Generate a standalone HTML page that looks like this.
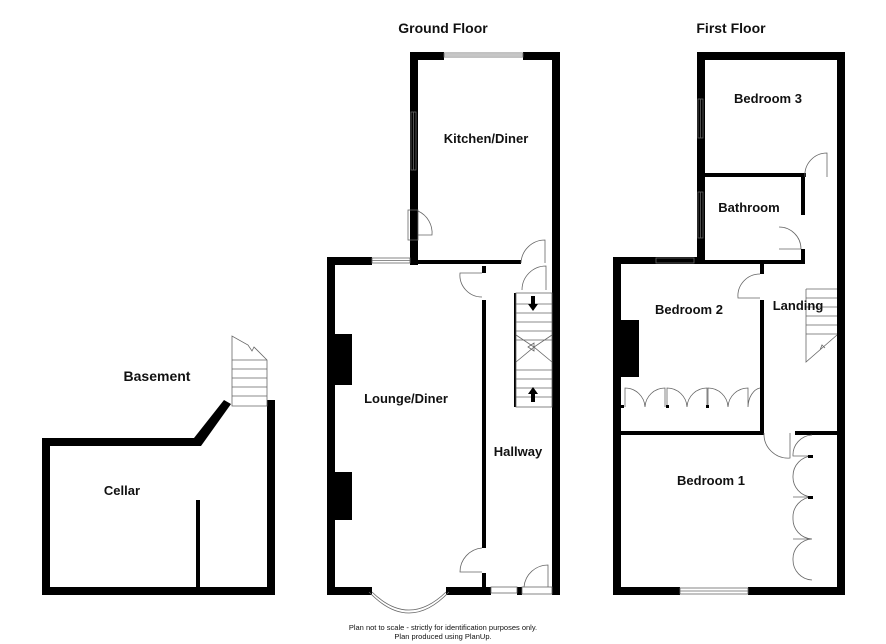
<!DOCTYPE html>
<html><head><meta charset="utf-8"><style>
html,body{margin:0;padding:0;background:#fff}
svg{display:block}
text{font-family:"Liberation Sans",Arial,sans-serif;font-weight:bold;fill:#111}
text.n{font-weight:normal}
</style></head><body>
<svg width="886" height="644" viewBox="0 0 886 644" xmlns="http://www.w3.org/2000/svg">
<g fill="#000">
<rect x="42" y="438" width="8" height="157"/>
<rect x="42" y="438" width="156" height="8"/>
<polygon points="194,438 224,400 231,404 201,446 194,446"/>
<rect x="267" y="400" width="8" height="195"/>
<rect x="42" y="587" width="233" height="8"/>
<rect x="196" y="500" width="4" height="90"/>
<rect x="410" y="52" width="8" height="213"/>
<rect x="410" y="52" width="34" height="8"/>
<rect x="523" y="52" width="37" height="8"/>
<rect x="552" y="52" width="8" height="543"/>
<rect x="418" y="260" width="103" height="4"/>
<rect x="327" y="257" width="8" height="338"/>
<rect x="327" y="257" width="45" height="8"/>
<rect x="327" y="587" width="45" height="8"/>
<rect x="446" y="587" width="45" height="8"/>
<rect x="517" y="587" width="5" height="8"/>
<rect x="482" y="300" width="4" height="248"/>
<rect x="482" y="266" width="4" height="7"/>
<rect x="482" y="573" width="4" height="18"/>
<rect x="335" y="334" width="17" height="51"/>
<rect x="335" y="472" width="17" height="48"/>
<rect x="514" y="293" width="2" height="114"/>
<rect x="697" y="52" width="8" height="212"/>
<rect x="697" y="52" width="148" height="8"/>
<rect x="837" y="52" width="8" height="543"/>
<rect x="705" y="173" width="101" height="4"/>
<rect x="801" y="173" width="4" height="42"/>
<rect x="801" y="249" width="4" height="15"/>
<rect x="613" y="257" width="92" height="7"/>
<rect x="705" y="260" width="100" height="4"/>
<rect x="613" y="257" width="8" height="338"/>
<rect x="613" y="587" width="67" height="8"/>
<rect x="748" y="587" width="97" height="8"/>
<rect x="760" y="264" width="4" height="10"/>
<rect x="760" y="300" width="4" height="135"/>
<rect x="621" y="431" width="143" height="4"/>
<rect x="795" y="431" width="42" height="4"/>
<rect x="621" y="320" width="18" height="57"/>
</g>
<g fill="none" stroke="#666" stroke-width="0.8">
<path d="M232,336 L232,406 L267,406 L267,360 L254,347 L252,351 L248,345 Z"/>
<path d="M232,360 H267 M232,369 H267 M232,378 H267 M232,387 H267 M232,396 H267"/>
<rect x="444" y="53" width="79" height="4"/><line x1="444" y1="55" x2="523" y2="55"/>
<rect x="411" y="112" width="5" height="58"/><line x1="413.5" y1="112" x2="413.5" y2="170"/>
<rect x="372" y="258" width="38" height="5"/><line x1="372" y1="260.5" x2="410" y2="260.5"/>
<rect x="491" y="587" width="26" height="6"/>
<path d="M372,592 Q409,628 446,592"/><path d="M369,592 Q409,634 449,592"/>
<rect x="408" y="210" width="10" height="30"/>
<path d="M418,211 A24,24 0 0 1 432,235 L418,235"/>
<path d="M521,263 A24,24 0 0 1 545,240 L545,263"/>
<path d="M522,290 A24,24 0 0 1 546,266 L546,290"/>
<path d="M482,273 L460,273 A22,22 0 0 0 482,297"/>
<path d="M482,548 A24,24 0 0 0 460,572 L482,572"/>
<rect x="522" y="587" width="30" height="7"/>
<path d="M524,587 A24,24 0 0 1 548,565 L548,587"/>
<rect x="516" y="293" width="36" height="114"/>
<path d="M516,304 H552 M516,313 H552 M516,322 H552 M516,331 H552 M516,340 H552 M516,370 H552 M516,379 H552 M516,388 H552 M516,397 H552"/>
<path d="M516,335 L534,347 L516,362 M552,335 L534,347 L552,362"/>
<path d="M528,347 L534,343 L534,351 Z"/>
<rect x="698" y="99" width="5" height="39"/><line x1="700.5" y1="99" x2="700.5" y2="138"/>
<rect x="698" y="192" width="5" height="46"/><line x1="700.5" y1="192" x2="700.5" y2="238"/>
<rect x="656" y="258" width="38" height="5"/>
<rect x="680" y="588" width="68" height="6"/><line x1="680" y1="591" x2="748" y2="591"/>
<path d="M805,177 A22,22 0 0 1 827,153 L827,177"/>
<path d="M801,249 A22,22 0 0 0 779,227 M779,249 L801,249"/>
<path d="M760,274 A22,22 0 0 0 738,298 L760,298"/>
<path d="M764,433 A24,24 0 0 0 790,458 L790,433"/>
<path d="M806,289 H837 M806,298 H837 M806,307 H837 M806,316 H837 M806,325 H837 M806,334 H837 M806,289 V362 L837,335 M820,350 L822,345 L825,348"/>
<path d="M625,407 V388 A20,20 0 0 1 645,407 M645,407 A20,20 0 0 1 665,388 V407 M667,407 V388 A20,20 0 0 1 687,407 M687,407 A20,20 0 0 1 707,388 V407 M708,407 V388 A20,20 0 0 1 728,407 M728,407 A20,20 0 0 1 748,388 V407 M760,388 A14,20 0 0 0 748,407"/>
<path d="M812,435 A20,20 0 0 0 793,456 H812 M812,456 A20,20 0 0 0 793,476 V476 A20,20 0 0 0 812,497 H793 M812,497 A20,20 0 0 0 793,518 A20,20 0 0 0 812,539 H793 M812,539 A20,20 0 0 0 793,560 A20,20 0 0 0 812,580"/>
</g>
<g fill="#000">
<polygon points="531,296 535,296 535,304 538,304 533,311 528,304 531,304"/>
<polygon points="531,402 535,402 535,394 538,394 533,387 528,394 531,394"/>
<rect x="620" y="405" width="4" height="3"/><rect x="666" y="405" width="3" height="3"/><rect x="706" y="405" width="3" height="3"/>
<rect x="808" y="455" width="5" height="3"/><rect x="808" y="496" width="5" height="3"/>
</g>
<text x="443" y="33" font-size="14" text-anchor="middle">Ground Floor</text>
<text x="731" y="33" font-size="14" text-anchor="middle">First Floor</text>
<text x="157" y="381" font-size="14" text-anchor="middle">Basement</text>
<text x="122" y="495" font-size="13" text-anchor="middle">Cellar</text>
<text x="486" y="143" font-size="13" text-anchor="middle">Kitchen/Diner</text>
<text x="406" y="403" font-size="13" text-anchor="middle">Lounge/Diner</text>
<text x="518" y="456" font-size="13" text-anchor="middle">Hallway</text>
<text x="768" y="103" font-size="13" text-anchor="middle">Bedroom 3</text>
<text x="749" y="212" font-size="13" text-anchor="middle">Bathroom</text>
<text x="689" y="314" font-size="13" text-anchor="middle">Bedroom 2</text>
<text x="798" y="310" font-size="13" text-anchor="middle">Landing</text>
<text x="711" y="485" font-size="13" text-anchor="middle">Bedroom 1</text>
<text class="n" x="443" y="630" font-size="7.5" text-anchor="middle">Plan not to scale - strictly for identification purposes only.</text>
<text class="n" x="443" y="639" font-size="7.5" text-anchor="middle">Plan produced using PlanUp.</text>
</svg>
</body></html>
